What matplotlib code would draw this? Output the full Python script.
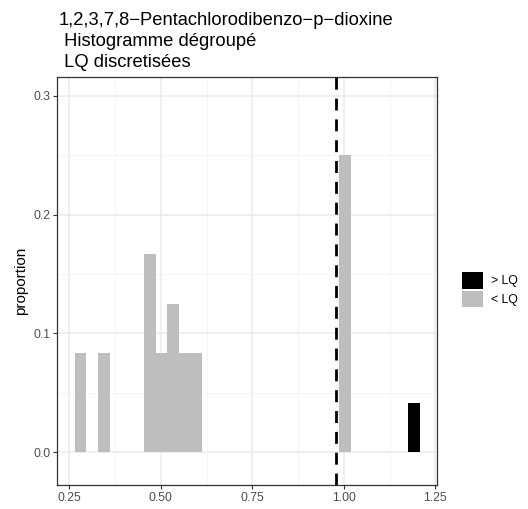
import matplotlib
matplotlib.use("Agg")
import matplotlib.pyplot as plt
from matplotlib.patches import Patch
from matplotlib.ticker import MultipleLocator

# bar centres and heights
below_x = [0.281, 0.345, 0.470, 0.502, 0.533, 0.565, 0.596, 1.003]
below_p = [0.0833, 0.0833, 0.1667, 0.0833, 0.125, 0.0833, 0.0833, 0.25]
above_x = [1.191]
above_p = [0.0417]
bar_width = 0.0316
lq_line = 0.978

title = "1,2,3,7,8\u2212Pentachlorodibenzo\u2212p\u2212dioxine\n Histogramme dégroupé\n LQ discretisées"
legend_labels = ["> LQ", "< LQ"]

grey = "#bebebe"

plt.rcParams["font.family"] = ["Liberation Sans", "DejaVu Sans"]

fig = plt.figure(figsize=(5.28, 5.09), dpi=100)
ax = fig.add_axes([0.1085, 0.0472, 0.827 - 0.1085, 0.848 - 0.0472])

ax.bar(below_x, below_p, width=bar_width, color=grey, zorder=2)
ax.bar(above_x, above_p, width=bar_width, color="black", zorder=2)
ax.axvline(lq_line, color="black", lw=2, dashes=(4.3, 3.2), zorder=3)

ax.set_xlim(0.217, 1.2535)
ax.set_ylim(-0.0275, 0.3155)
ax.xaxis.set_minor_locator(MultipleLocator(0.125))
ax.yaxis.set_minor_locator(MultipleLocator(0.05))
ax.set_xticks([0.25, 0.5, 0.75, 1.0, 1.25], ["0.25", "0.50", "0.75", "1.00", "1.25"])
ax.set_yticks([0.0, 0.1, 0.2, 0.3], ["0.0", "0.1", "0.2", "0.3"])

ax.grid(which="major", color="#ebebeb", lw=1.1, zorder=0)
ax.grid(which="minor", color="#f2f2f2", lw=0.6, zorder=0)
ax.set_axisbelow(True)
ax.tick_params(which="major", length=3, width=0.8, color="#333333",
               labelsize=8.8, labelcolor="#4d4d4d", pad=2)
ax.tick_params(which="minor", length=0)
for s in ax.spines.values():
    s.set_color("#333333")
    s.set_linewidth(0.9)

ax.set_ylabel("proportion", fontsize=11, labelpad=4)
fig.text(0.111, 0.977, title, fontsize=13.2, ha="left", va="top", linespacing=1.3)

handles = [Patch(facecolor="black"), Patch(facecolor=grey)]
fig.legend(handles, legend_labels, loc="upper left", bbox_to_anchor=(0.8744, 0.4656),
           frameon=False, fontsize=8.8, handlelength=1.72, handleheight=1.72,
           labelspacing=0.15, handletextpad=0.68, borderpad=0, borderaxespad=0)

fig.savefig("out.png", dpi=100)
